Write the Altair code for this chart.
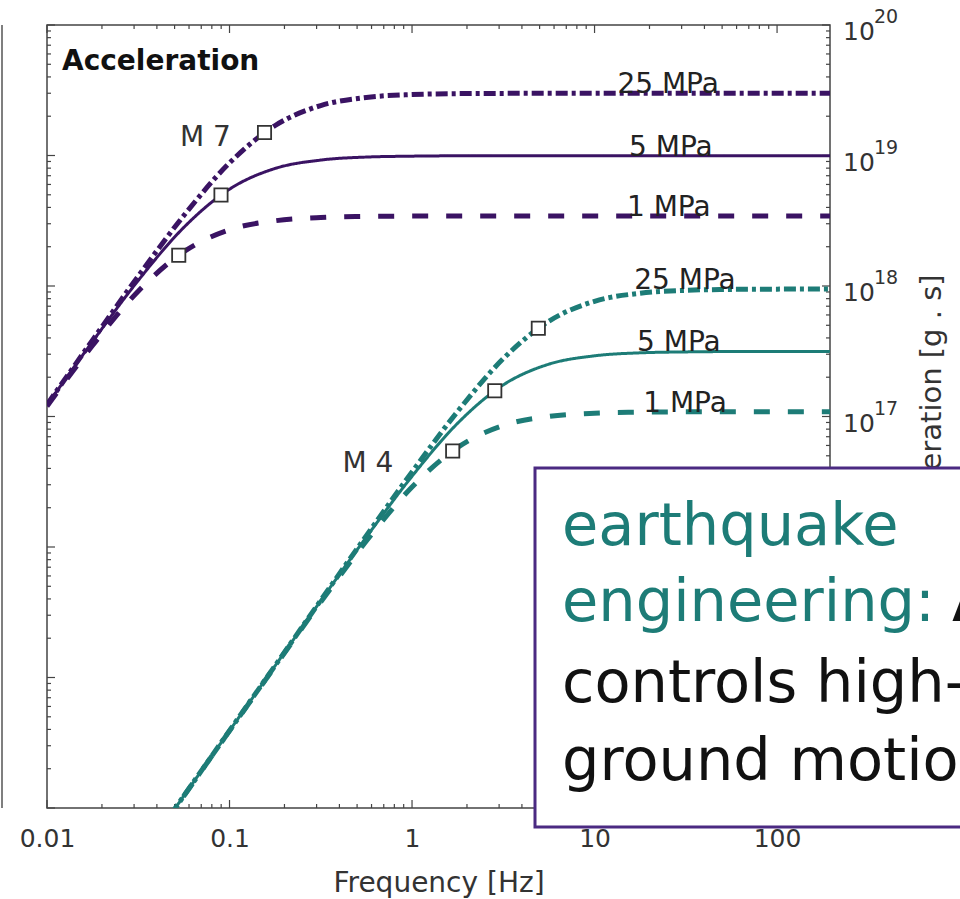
import altair as alt
import pandas as pd

# Frequencies [Hz] at which the spectra are sampled
freq = [0.01, 0.0178, 0.0316, 0.0562, 0.1, 0.178, 0.316, 0.562, 1.0, 1.78,
        3.16, 5.62, 10.0, 17.8, 31.6, 56.2, 100.0, 200.0]

# log10 of the source acceleration spectrum [g . s]
m7_25 = [17.091, 17.587, 18.075, 18.540, 18.943, 19.230, 19.383, 19.445, 19.467,
         19.474, 19.476, 19.477, 19.477, 19.477, 19.477, 19.477, 19.477, 19.477]
m7_5 = [17.088, 17.576, 18.042, 18.449, 18.742, 18.901, 18.965, 18.988, 18.995,
        18.998, 18.999, 18.999, 18.999, 18.999, 18.999, 18.999, 18.999, 18.999]
m7_1 = [17.078, 17.546, 17.960, 18.263, 18.431, 18.500, 18.525, 18.533, 18.536,
        18.537, 18.537, 18.537, 18.537, 18.537, 18.537, 18.537, 18.537, 18.537]
m4_25 = [12.593, 13.093, 13.593, 14.093, 14.593, 15.092, 15.591, 16.087, 16.575,
         17.040, 17.443, 17.730, 17.883, 17.945, 17.967, 17.974, 17.976, 17.977]
m4_5 = [12.593, 13.093, 13.593, 14.093, 14.592, 15.091, 15.588, 16.076, 16.542,
        16.949, 17.242, 17.401, 17.465, 17.488, 17.495, 17.498, 17.499, 17.499]
m4_1 = [12.593, 13.093, 13.592, 14.092, 14.591, 15.088, 15.578, 16.046, 16.460,
        16.763, 16.931, 17.000, 17.025, 17.033, 17.036, 17.037, 17.037, 17.037]

curve_mag = ["M 7", "M 7", "M 7", "M 4", "M 4", "M 4"]
curve_stress = ["25 MPa", "5 MPa", "1 MPa", "25 MPa", "5 MPa", "1 MPa"]
curve_vals = [m7_25, m7_5, m7_1, m4_25, m4_5, m4_1]

# Corner frequencies (open squares) and the spectrum level there
corner_freq = [0.1555, 0.0898, 0.0527, 4.92, 2.84, 1.67]
corner_log = [19.176, 18.698, 18.236, 17.676, 17.198, 16.736]

# Where each stress-drop label sits along the plateau
label_freq = [25.3, 26.2, 25.5, 31.3, 29.0, 31.3]
label_dy = [-10, -5, -5, -3, -3, -2]

# Magnitude labels
mag_text = ["M 7", "M 4"]
mag_freq = [0.0738, 0.573]
mag_log = [19.073, 16.575]

# Axis ticks
x_major = [0.01, 0.1, 1, 10, 100]
x_labels_fmt = "~g"
y_exponents = [14, 15, 16, 17, 18, 19, 20]
y_labelled = [17, 18, 19, 20]

PURPLE = "#3a1363"
TEAL = "#1d7c77"
BOX = "#4b2a82"
FONT = "DejaVu Sans"

W, H = 783, 783

rows = []
for mag, stress, vals in zip(curve_mag, curve_stress, curve_vals):
    for f, v in zip(freq, vals):
        rows.append({"freq": f, "acc": 10 ** v, "mag": mag, "stress": stress,
                     "curve": f"{mag} {stress}"})
spectra = pd.DataFrame(rows)

corners = pd.DataFrame({"freq": corner_freq, "acc": [10 ** v for v in corner_log]})
labels = pd.DataFrame({
    "freq": label_freq,
    "acc": [10 ** vals[-1] for vals in curve_vals],
    "text": curve_stress,
    "dy": label_dy,
})
mags = pd.DataFrame({"freq": mag_freq, "acc": [10 ** v for v in mag_log], "text": mag_text})

x_minor = [m * 10 ** e for e in range(-2, 3) for m in range(2, 10) if m * 10 ** e < 195]
y_major = [10.0 ** e for e in y_exponents]
y_minor = [m * 10.0 ** e for e in range(14, 20) for m in range(2, 10)]

xscale = alt.Scale(type="log", domain=[0.01, 195], nice=False)
yscale = alt.Scale(type="log", domain=[1e14, 1e20], nice=False)

xaxis = alt.Axis(values=x_major, format=x_labels_fmt, ticks=False, tickSize=0,
                 domain=False, grid=False, labelFontSize=25, labelColor="#333",
                 labelPadding=18, labelOverlap=False, labelFlush=False,
                 title="Frequency [Hz]", titleFontSize=28,
                 titleFontWeight="normal", titleColor="#333", titlePadding=18)


def X(field="freq"):
    return alt.X(f"{field}:Q", scale=xscale, axis=xaxis)


def Y(field="acc"):
    return alt.Y(f"{field}:Q", scale=yscale, axis=None)


one = pd.DataFrame({"k": [0]})


# Inward-pointing ticks on all four sides of the frame
def xticks(values, length):
    d = pd.DataFrame({"v": values})
    bottom = alt.Chart(d).mark_rule(color="#444", strokeWidth=1.2).encode(
        x=X("v"), y=alt.value(H), y2=alt.value(H - length))
    top = alt.Chart(d).mark_rule(color="#444", strokeWidth=1.2).encode(
        x=X("v"), y=alt.value(0), y2=alt.value(length))
    return [bottom, top]


def yticks(values, length):
    d = pd.DataFrame({"v": values})
    left = alt.Chart(d).mark_rule(color="#444", strokeWidth=1.2).encode(
        y=Y("v"), x=alt.value(0), x2=alt.value(length))
    right = alt.Chart(d).mark_rule(color="#444", strokeWidth=1.2).encode(
        y=Y("v"), x=alt.value(W), x2=alt.value(W - length))
    return [left, right]


ticks = xticks(x_major, 8) + xticks(x_minor, 4) + yticks(y_major, 8) + yticks(y_minor, 4)

# One line layer per stress drop: dash-dot, solid, dashed
styles = {
    "25 MPa": {"strokeDash": [12, 4, 4, 4], "strokeWidth": 5},
    "5 MPa": {"strokeDash": [1, 0], "strokeWidth": 3},
    "1 MPa": {"strokeDash": [16, 18], "strokeWidth": 5},
}
line_layers = []
for stress, st in styles.items():
    line_layers.append(
        alt.Chart(spectra).transform_filter(alt.datum.stress == stress)
        .mark_line(clip=True, interpolate="monotone", strokeCap="butt",
                   strokeDash=st["strokeDash"], strokeWidth=st["strokeWidth"])
        .encode(
            x=X(), y=Y(),
            color=alt.Color("mag:N", scale=alt.Scale(domain=["M 7", "M 4"],
                                                     range=[PURPLE, TEAL]), legend=None),
            detail="curve:N",
        )
    )

squares = alt.Chart(corners).mark_square(size=175, fill="white", fillOpacity=1,
                                         stroke="#333", strokeWidth=1.8).encode(x=X(), y=Y())

stress_labels = alt.Chart(labels).mark_text(
    font=FONT, fontSize=28, color="#222", baseline="alphabetic", align="center"
).encode(x=X(), y=Y(), text="text:N", yOffset=alt.YOffset("dy:Q", scale=None))

mag_labels = alt.Chart(mags).mark_text(
    font=FONT, fontSize=28, color="#333", baseline="alphabetic", align="center"
).encode(x=X(), y=Y(), text="text:N")

panel_title = alt.Chart(one).mark_text(
    font=FONT, fontSize=28, fontWeight="bold", color="#111", align="left", baseline="alphabetic"
).encode(x=alt.value(15), y=alt.value(45), text=alt.value("Acceleration"))

# Right-hand decade labels 10^n
exp_df = pd.DataFrame({"acc": [10.0 ** e for e in y_labelled], "e": [str(e) for e in y_labelled]})
base_lbl = alt.Chart(exp_df).mark_text(
    font=FONT, fontSize=25, color="#333", align="left", baseline="middle", dy=7
).encode(x=alt.value(796), y=Y(), text=alt.value("10"))
exp_lbl = alt.Chart(exp_df).mark_text(
    font=FONT, fontSize=19, color="#333", align="left", baseline="middle", dy=-8
).encode(x=alt.value(827), y=Y(), text="e:N")

y_title = alt.Chart(one).mark_text(
    font=FONT, fontSize=29, color="#333", angle=270, align="center", baseline="middle"
).encode(x=alt.value(885), y=alt.value(386), text=alt.value("Acceleration [g . s]"))

# Border of the neighbouring panel on the left
neighbour = alt.Chart(one).mark_rule(color="#555", strokeWidth=1.5).encode(
    x=alt.value(-45), y=alt.value(0), y2=alt.value(H))

# Annotation box
box = alt.Chart(one).mark_rect(fill="white", stroke=BOX, strokeWidth=3).encode(
    x=alt.value(488), x2=alt.value(940), y=alt.value(443), y2=alt.value(802))

box_lines = [
    ("earthquake", TEAL, 515, 520),
    ("engineering:", TEAL, 515, 596),
    ("\u0394\u03c3", "#111", 905, 596),
    ("controls high-frequency", "#111", 515, 677),
    ("ground motion", "#111", 515, 755),
]
box_text = [
    alt.Chart(one).mark_text(font=FONT, fontSize=59, color=c, align="left",
                             baseline="alphabetic").encode(
        x=alt.value(x), y=alt.value(y), text=alt.value(t))
    for t, c, x, y in box_lines
]

chart = alt.layer(
    neighbour, *ticks, *line_layers, squares, stress_labels, mag_labels, panel_title,
    base_lbl, exp_lbl, y_title, box, *box_text,
).properties(
    width=W, height=H,
    padding={"left": 47, "top": 25, "right": 130, "bottom": 91},
    autosize=alt.AutoSizeParams(type="none"),
).configure(font=FONT).configure_view(stroke="#444", strokeWidth=1.5)

chart.save("out.html", embed_options={"renderer": "svg", "actions": False})
